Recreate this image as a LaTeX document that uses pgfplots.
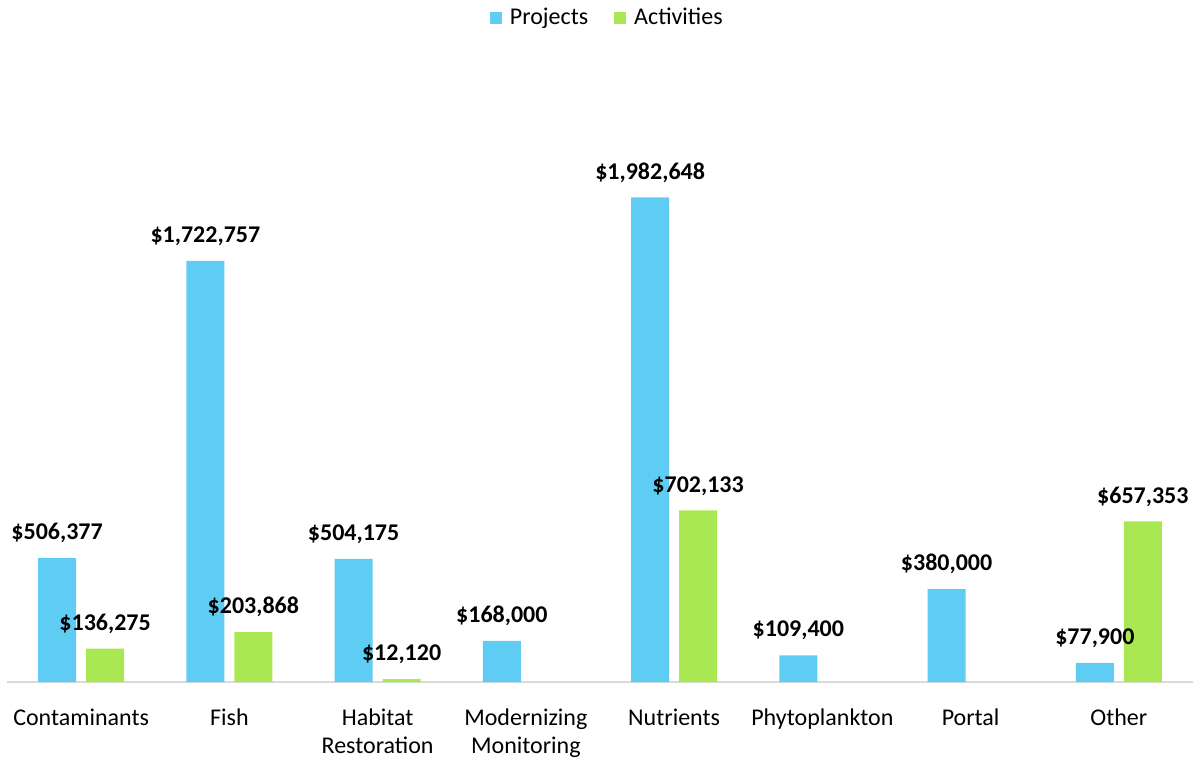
\documentclass[border=0pt]{standalone}
\usepackage{fontspec}
\setmainfont{Carlito}
\usepackage{pgfplots}
\pgfplotsset{compat=1.18}
\definecolor{projblue}{HTML}{5FCDF3}
\definecolor{actgreen}{HTML}{A9E852}
\begin{document}
\begin{tikzpicture}
\begin{axis}[
  scale only axis, width=593pt, height=305.5pt,
  at={(0,0)}, anchor=south west,
  xmin=-0.5, xmax=7.5, ymin=0, ymax=2500000,
  ybar=5pt, bar width=19pt,
  axis x line*=bottom, hide y axis,
  x axis line style={draw=black!15, line width=1pt, -},
  xtick={0,...,7},
  xticklabels={Contaminants, Fish, {Habitat\\Restoration}, {Modernizing\\Monitoring}, Nutrients, Phytoplankton, Portal, Other},
  xticklabel style={align=center, font=\fontsize{12}{14}\selectfont, yshift=-10pt},
  major tick length=0pt,
  clip=false,
  nodes near coords={\$\pgfplotspointmeta},
  point meta=explicit symbolic,
  nodes near coords style={font=\fontsize{12}{14}\selectfont\bfseries, anchor=south, yshift=4pt},
  legend style={draw=none, legend columns=2, at={(0.507,1.087)}, anchor=center,
    font=\fontsize{12}{14}\selectfont,
    /tikz/every odd column/.append style={column sep=2pt},
    /tikz/every even column/.append style={column sep=11pt}},
  legend image code/.code={\fill[#1] (0pt,-3pt) rectangle (6pt,3pt);},
]
\addplot[fill=projblue, draw=none] coordinates {
  (0,506377) [506,377]
  (1,1722757) [1,722,757]
  (2,504175) [504,175]
  (3,168000) [168,000]
  (4,1982648) [1,982,648]
  (5,109400) [109,400]
  (6,380000) [380,000]
  (7,77900) [77,900]
};
\addplot[fill=actgreen, draw=none] coordinates {
  (0,136275) [136,275]
  (1,203868) [203,868]
  (2,12120) [12,120]
  (4,702133) [702,133]
  (7,657353) [657,353]
};
\legend{Projects, Activities}
\end{axis}
\pgfresetboundingbox
\path[use as bounding box] (-3.5pt,-39.5pt) rectangle (597pt,341pt);
\end{tikzpicture}
\end{document}
